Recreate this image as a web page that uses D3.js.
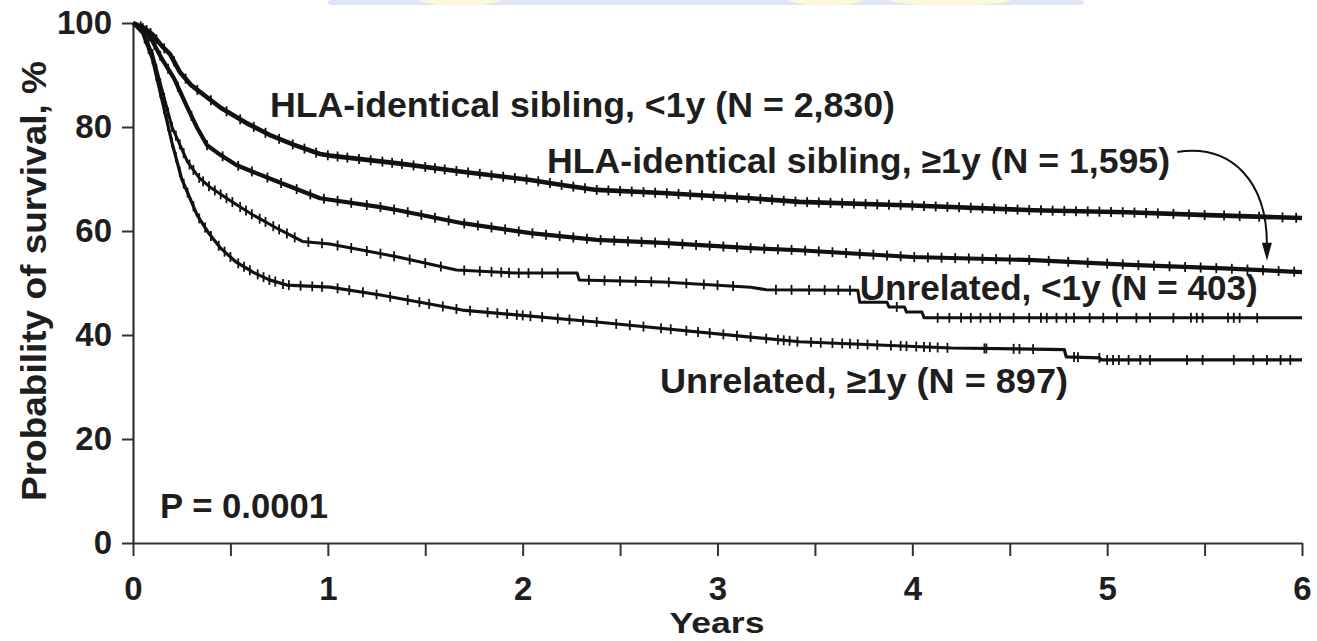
<!DOCTYPE html>
<html>
<head>
<meta charset="utf-8">
<script src="https://cdn.jsdelivr.net/npm/d3@7"></script>
<style>
  body { margin: 0; background: #fff; }
  svg { display: block; }
  text { font-family: "Liberation Sans", Arial, Helvetica, sans-serif; font-weight: bold; fill: #1e1e1e; }
</style>
</head>
<body>
<svg id="chart" width="1317" height="641"></svg>
<script>
// survival curves, [years, % surviving]
const sibLt1 = [[0,100],[0.05,99.2],[0.1,97.8],[0.15,95.5],[0.19,94],[0.24,90.6],[0.3,88],[0.45,83.7],[0.58,80.8],[0.7,78.5],
  [0.83,76.5],[0.96,74.8],[1.01,74.5],[1.36,73],[1.69,71.4],[2.04,69.8],[2.21,68.8],[2.38,67.9],[2.72,67.3],[3.17,66.3],
  [3.42,65.6],[4,64.9],[4.62,64],[5.1,63.6],[5.48,63.1],[6,62.5]];
const sibGe1 = [[0,100],[0.05,99],[0.1,96.5],[0.15,93],[0.21,89.4],[0.28,83.7],[0.33,79.8],[0.38,76.5],[0.45,74.6],
  [0.53,72.7],[0.62,71.3],[0.79,68.8],[0.96,66.3],[1.27,64.6],[1.36,64],[1.69,61.5],[2.04,59.6],[2.38,58.3],[2.72,57.7],
  [3.17,56.7],[3.42,56.3],[4,55],[4.62,54.4],[5.12,53.5],[5.6,52.8],[6,52.1]];
const unrLt1 = [[0,100],[0.05,98.5],[0.1,94],[0.15,87],[0.2,80],[0.28,73.3],[0.34,70.2],[0.4,68.3],[0.5,65.8],[0.62,63],
  [0.75,60.3],[0.87,58],[1.01,57.5],[1.18,56.3],[1.36,55],[1.66,52.5],[1.97,51.9],[2.28,51.9],[2.29,50.6],[2.72,50.2],
  [3.17,49.2],[3.25,48.7],[3.72,48.6],[3.73,46.3],[3.87,46.3],[3.88,45.4],[3.96,45.4],[3.97,44.4],[4.05,44.4],[4.06,43.3],
  [6,43.3]];
const unrGe1 = [[0,100],[0.05,98],[0.1,93],[0.15,85],[0.2,77],[0.25,70],[0.33,63],[0.39,59.5],[0.45,56.7],[0.53,54],
  [0.62,52],[0.7,50.6],[0.79,49.6],[1.01,49.2],[1.27,47.7],[1.69,44.8],[2.38,42.5],[3.17,39.6],[3.42,38.7],[4.2,37.5],
  [4.78,37.2],[4.79,35.8],[4.96,35.6],[4.97,35.2],[6,35.2]];

// censoring marks (years)
const sibLt1Cens = [0.04,0.07,0.09,0.12,0.16,0.21,0.27,0.33,0.4,0.48,0.55,0.62,0.68,0.75,0.82,0.88,0.94,1.0,1.05,1.1,
  1.16,1.22,1.28,1.33,1.38,1.44,1.5,1.55,1.6,1.66,1.72,1.78,1.84,1.9,1.96,2.02,2.08,2.14,2.2,2.26,2.32,2.38,2.44,2.5,
  2.56,2.62,2.68,2.74,2.8,2.86,2.92,2.98,3.04,3.1,3.16,3.22,3.28,3.34,3.4,3.46,3.52,3.58,3.64,3.7,3.76,3.82,3.88,3.94,
  4.0,4.06,4.12,4.18,4.24,4.3,4.36,4.42,4.48,4.54,4.6,4.66,4.72,4.78,4.84,4.9,4.96,5.02,5.08,5.14,5.2,5.26,5.34,5.42,
  5.5,5.6,5.68,5.78,5.9,5.97];
const sibGe1Cens = [0.05,0.08,0.11,0.14,0.18,0.23,0.3,0.38,0.46,0.54,0.61,0.69,0.76,0.84,0.91,0.98,1.05,1.12,1.2,1.27,
  1.34,1.41,1.48,1.55,1.62,1.7,1.77,1.84,1.91,1.98,2.05,2.12,2.19,2.26,2.33,2.4,2.47,2.54,2.61,2.68,2.75,2.82,2.89,2.96,
  3.03,3.1,3.17,3.24,3.31,3.38,3.45,3.52,3.59,3.66,3.73,3.8,3.87,3.94,4.01,4.08,4.15,4.22,4.29,4.36,4.43,4.5,4.6,4.7,
  4.8,4.9,5.0,5.08,5.16,5.24,5.32,5.4,5.48,5.56,5.64,5.72,5.8,5.88,5.96];
const unrLt1Cens = [0.06,0.08,0.1,0.12,0.14,0.16,0.18,0.2,0.22,0.24,0.26,0.29,0.31,0.34,0.36,0.39,0.42,0.45,0.48,0.51,
  0.55,0.58,0.61,0.65,0.68,0.72,0.75,0.79,0.83,0.9,0.97,1.05,1.12,1.2,1.27,1.34,1.42,1.5,1.58,1.7,1.78,1.84,1.89,1.93,
  1.98,2.03,2.1,2.18,2.34,2.42,2.5,2.58,2.66,2.75,2.84,2.93,3.0,3.08,3.3,3.38,3.47,3.55,3.62,3.68,3.92,4.13,4.19,4.25,
  4.3,4.35,4.4,4.45,4.52,4.6,4.66,4.69,4.74,4.79,4.83,4.91,4.98,5.05,5.15,5.22,5.34,5.43,5.46,5.49,5.62,5.65,5.68,5.77];
const unrGe1Cens = [0.06,0.08,0.1,0.12,0.14,0.16,0.18,0.2,0.22,0.24,0.26,0.28,0.31,0.34,0.37,0.4,0.44,0.47,0.5,0.54,
  0.57,0.6,0.64,0.67,0.7,0.73,0.77,0.8,0.86,0.92,0.97,1.05,1.11,1.18,1.25,1.32,1.41,1.47,1.52,1.59,1.66,1.73,1.82,1.87,
  1.92,1.97,2.0,2.04,2.1,2.18,2.24,2.31,2.38,2.48,2.55,2.62,2.71,2.76,2.84,2.9,2.96,3.03,3.1,3.17,3.25,3.31,3.34,3.37,
  3.41,3.48,3.53,3.59,3.64,3.68,3.72,3.77,3.82,3.89,3.94,3.97,4.02,4.06,4.09,4.13,4.18,4.37,4.38,4.52,4.55,4.62,4.83,
  4.85,4.96,5.0,5.03,5.06,5.11,5.17,5.22,5.41,5.49,5.65,5.75,5.82,5.89,5.94];

const groupNames = ['HLA-identical sibling, <1y (N = 2,830)', 'HLA-identical sibling, \u22651y (N = 1,595)',
  'Unrelated, <1y (N = 403)', 'Unrelated, \u22651y (N = 897)'];
const curves = [sibLt1, sibGe1, unrLt1, unrGe1];
const censored = [sibLt1Cens, sibGe1Cens, unrLt1Cens, unrGe1Cens];

const yTicks = [0, 20, 40, 60, 80, 100];
const xTicks = [0, 0.5, 1, 1.5, 2, 2.5, 3, 3.5, 4, 4.5, 5, 5.5, 6];
const xLabels = [0, 1, 2, 3, 4, 5, 6];

// label anchors (data units), label widths and stroke widths per group
const labelAt = [[0.703, 81.9], [2.125, 71.2], [3.73, 46.7], [2.705, 28.8]];
const labelWidth = [625, 623, 398, 408];
const strokeW = [4.6, 4.2, 3, 3.2];

const svg = d3.select('#chart');
const x = d3.scaleLinear().domain([0, 6]).range([133, 1302]);
const y = d3.scaleLinear().domain([0, 100]).range([543, 23]);

// faint banner strip along the top edge
let clip = svg.append('clipPath').attr('id', 'band');
clip.append('rect').attr('x', 0).attr('y', 0).attr('width', 1317).attr('height', 5);
let band = svg.append('g').attr('clip-path', 'url(#band)');
band.append('rect').attr('x', 328).attr('y', 0).attr('width', 756).attr('height', 5).attr('rx', 4).style('fill', '#dfe5f7');
[[460, 46], [826, 42], [950, 68]].forEach(function(e) {
  band.append('ellipse').attr('cx', e[0]).attr('cy', -4).attr('rx', e[1]).attr('ry', 10).style('fill', '#fbf9d9');
});

// axes
let yAxis = svg.append('g')
  .attr('transform', 'translate(' + x(0) + ',0)')
  .call(d3.axisLeft(y).tickValues(yTicks).tickSize(11).tickSizeOuter(0).tickPadding(10));
let xAxis = svg.append('g')
  .attr('transform', 'translate(0,' + y(0) + ')')
  .call(d3.axisBottom(x).tickValues(xTicks).tickSize(13).tickSizeOuter(0).tickPadding(21)
    .tickFormat(function(d) { return xLabels.indexOf(d) >= 0 ? d3.format('d')(d) : ''; }));
[yAxis, xAxis].forEach(function(a) {
  a.select('.domain').style('stroke', '#333').style('stroke-width', 2.2);
  a.selectAll('.tick line').style('stroke', '#333').style('stroke-width', 2);
  a.selectAll('.tick text').style('font-size', '33px').style('fill', '#1e1e1e')
    .style('font-family', '"Liberation Sans", Arial, sans-serif').style('font-weight', 'bold');
});

function valueAt(pts, t) {
  for (let i = 1; i < pts.length; i++) {
    if (t <= pts[i][0]) {
      let a = pts[i - 1], b = pts[i];
      if (b[0] === a[0]) return b[1];
      return a[1] + (b[1] - a[1]) * (t - a[0]) / (b[0] - a[0]);
    }
  }
  return pts[pts.length - 1][1];
}

let line = d3.line().x(d => x(d[0])).y(d => y(d[1])).curve(d3.curveLinear);

curves.forEach(function(pts, i) {
  svg.append('path')
    .attr('d', line(pts))
    .style('fill', 'none')
    .style('stroke', '#111')
    .style('stroke-width', strokeW[i])
    .style('stroke-linejoin', 'round');
  svg.append('g').selectAll('line').data(censored[i]).join('line')
    .attr('x1', d => x(d)).attr('x2', d => x(d))
    .attr('y1', d => y(valueAt(pts, d)) - 5)
    .attr('y2', d => y(valueAt(pts, d)) + 5)
    .style('stroke', '#111')
    .style('stroke-width', 1.8);
  svg.append('text')
    .attr('x', x(labelAt[i][0])).attr('y', y(labelAt[i][1]))
    .attr('textLength', labelWidth[i]).attr('lengthAdjust', 'spacingAndGlyphs')
    .style('font-size', '35px')
    .text(groupNames[i]);
});

// arrow from the second label down to its curve
let a0 = [x(5.36), y(75.2)], a1 = [x(5.82), y(54.3)];
svg.append('path')
  .attr('d', 'M' + a0[0] + ',' + a0[1] + 'C' + (a0[0] + 55) + ',' + (a0[1] - 8) + ' ' + a1[0] + ',' + (a0[1] + 30) + ' ' + a1[0] + ',' + (a1[1] - 16))
  .style('fill', 'none').style('stroke', '#111').style('stroke-width', 2);
svg.append('path')
  .attr('d', 'M' + (a1[0] - 5) + ',' + (a1[1] - 18) + 'L' + (a1[0] + 5) + ',' + (a1[1] - 18) + 'L' + a1[0] + ',' + a1[1] + 'Z')
  .style('fill', '#111');

svg.append('text')
  .attr('x', x(0.139)).attr('y', y(4.8))
  .attr('textLength', 168).attr('lengthAdjust', 'spacingAndGlyphs')
  .style('font-size', '35px')
  .text('P = 0.0001');

svg.append('text')
  .attr('x', 717).attr('y', 633)
  .attr('text-anchor', 'middle')
  .attr('textLength', 95).attr('lengthAdjust', 'spacingAndGlyphs')
  .style('font-size', '30px')
  .text('Years');

svg.append('text')
  .attr('transform', 'translate(46,281) rotate(-90)')
  .attr('text-anchor', 'middle')
  .attr('textLength', 440).attr('lengthAdjust', 'spacingAndGlyphs')
  .style('font-size', '35px')
  .text('Probability of survival, %');
</script>
</body>
</html>
